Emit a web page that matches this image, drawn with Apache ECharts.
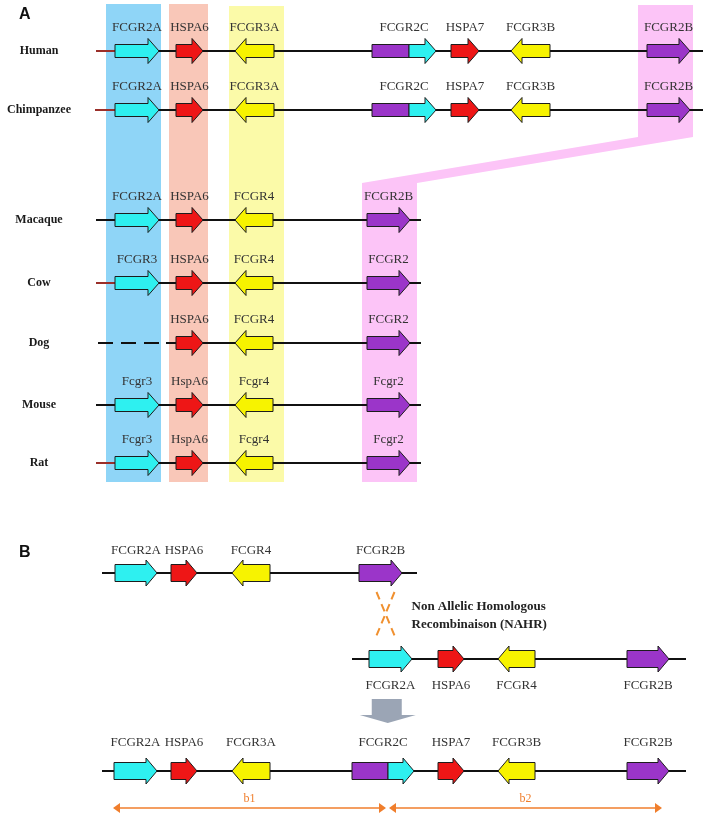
<!DOCTYPE html>
<html>
<head>
<meta charset="utf-8">
<title>FCGR locus</title>
<script src="https://cdn.jsdelivr.net/npm/echarts@6/dist/echarts.min.js"></script>
<style>
  html, body { margin: 0; padding: 0; background: #fff; }
  #chart { width: 710px; height: 821px; }
</style>
</head>
<body>
<div id="chart"></div>
<script>
// ---- data -------------------------------------------------------------
// panel A: species, where the track sits, and how far the locus runs
const species = ['Human', 'Chimpanzee', 'Macaque', 'Cow', 'Dog', 'Mouse', 'Rat'];
const speciesTrack = [51, 110, 220, 283, 343, 405, 463];
const speciesSpan = [[96, 703], [95, 703], [96, 421], [96, 421], [98, 421], [96, 421], [96, 421]];
const speciesLead = [1, 1, 0, 1, 0, 0, 1]; // reddish lead-in before first gene
const dogGapEnd = 166; // missing sequence in dog, drawn dashed

// genes: [label, start, end, strand, family, fusion split]
const humanGenes = [
  ['FCGR2A', 115, 159, 1, 'a'],
  ['HSPA6', 176, 203, 1, 'h'],
  ['FCGR3A', 235, 274, -1, 'r'],
  ['FCGR2C', 372, 436, 1, 'c', 409],
  ['HSPA7', 451, 479, 1, 'h'],
  ['FCGR3B', 511, 550, -1, 'r'],
  ['FCGR2B', 647, 690, 1, 'b']
];
const chimpGenes = [
  ['FCGR2A', 115, 159, 1, 'a'],
  ['HSPA6', 176, 203, 1, 'h'],
  ['FCGR3A', 235, 274, -1, 'r'],
  ['FCGR2C', 372, 436, 1, 'c', 409],
  ['HSPA7', 451, 479, 1, 'h'],
  ['FCGR3B', 511, 550, -1, 'r'],
  ['FCGR2B', 647, 690, 1, 'b']
];
const macaqueGenes = [
  ['FCGR2A', 115, 159, 1, 'a'],
  ['HSPA6', 176, 203, 1, 'h'],
  ['FCGR4', 235, 273, -1, 'r'],
  ['FCGR2B', 367, 410, 1, 'b']
];
const cowGenes = [
  ['FCGR3', 115, 159, 1, 'a'],
  ['HSPA6', 176, 203, 1, 'h'],
  ['FCGR4', 235, 273, -1, 'r'],
  ['FCGR2', 367, 410, 1, 'b']
];
const dogGenes = [
  ['HSPA6', 176, 203, 1, 'h'],
  ['FCGR4', 235, 273, -1, 'r'],
  ['FCGR2', 367, 410, 1, 'b']
];
const mouseGenes = [
  ['Fcgr3', 115, 159, 1, 'a'],
  ['HspA6', 176, 203, 1, 'h'],
  ['Fcgr4', 235, 273, -1, 'r'],
  ['Fcgr2', 367, 410, 1, 'b']
];
const ratGenes = [
  ['Fcgr3', 115, 159, 1, 'a'],
  ['HspA6', 176, 203, 1, 'h'],
  ['Fcgr4', 235, 273, -1, 'r'],
  ['Fcgr2', 367, 410, 1, 'b']
];
const speciesGenes = [humanGenes, chimpGenes, macaqueGenes, cowGenes, dogGenes, mouseGenes, ratGenes];

// conserved columns behind panel A
const blockFamily = ['a', 'h', 'r', 'b'];
const blockSpan = [[106, 161], [169, 208], [229, 284], [362, 417]];
const blockTop = [4, 4, 6, 183];
const blockBottom = 482;
const primate2bSpan = [638, 693]; // FCGR2B column in human / chimp
const primate2bRange = [5, 137];

// panel B: ancestral locus, duplicated copy, locus after NAHR
const bTrack = [573, 659, 771];
const bSpan = [[102, 417], [352, 686], [102, 686]];
const ancestralGenes = [
  ['FCGR2A', 115, 157, 1, 'a'],
  ['HSPA6', 171, 197, 1, 'h'],
  ['FCGR4', 232, 270, -1, 'r'],
  ['FCGR2B', 359, 402, 1, 'b']
];
const duplicatedGenes = [
  ['FCGR2A', 369, 412, 1, 'a'],
  ['HSPA6', 438, 464, 1, 'h'],
  ['FCGR4', 498, 535, -1, 'r'],
  ['FCGR2B', 627, 669, 1, 'b']
];
const derivedGenes = [
  ['FCGR2A', 114, 157, 1, 'a'],
  ['HSPA6', 171, 197, 1, 'h'],
  ['FCGR3A', 232, 270, -1, 'r'],
  ['FCGR2C', 352, 414, 1, 'c', 388],
  ['HSPA7', 438, 464, 1, 'h'],
  ['FCGR3B', 498, 535, -1, 'r'],
  ['FCGR2B', 627, 669, 1, 'b']
];
const bGenes = [ancestralGenes, duplicatedGenes, derivedGenes];
const nahrText = ['Non Allelic Homologous', 'Recombinaison (NAHR)'];
const segmentNames = ['b1', 'b2'];
const segmentRange = [[113, 386], [389, 662]];
const segmentLevel = 808;

// ---- styling ----------------------------------------------------------
const geneColor = { a: '#2ef0f0', h: '#ee1616', r: '#f7f300', b: '#9b35c9' };
const blockColor = { a: '#8fd5f7', h: '#f9c7b8', r: '#fbfaa8', b: '#fcc4f7' };
const orange = '#f07e2c';
const serif = '"Liberation Serif", "DejaVu Serif", serif';

// flatten genes into one list for the custom series
const geneItems = [];
speciesGenes.forEach((list, i) => list.forEach(g =>
  geneItems.push({ g, track: speciesTrack[i], bh: 6.5, hh: 12.5, lab: -23 })));
const bLabelOffset = [-22, 27, -28];
bGenes.forEach((list, i) => list.forEach(g =>
  geneItems.push({ g, track: bTrack[i], bh: 8.5, hh: 13, lab: bLabelOffset[i] })));

// chromosome lines
const lineItems = [];
species.forEach((s, i) => lineItems.push({
  track: speciesTrack[i], span: speciesSpan[i],
  lead: speciesLead[i] ? speciesGenes[i][0][1] : null,
  dashTo: s === 'Dog' ? dogGapEnd : null
}));
bTrack.forEach((t, i) => lineItems.push({ track: t, span: bSpan[i], lead: null, dashTo: null }));

function arrowPoints(x0, x1, yc, bh, hh, head, strand) {
  if (strand > 0) {
    const hx = x1 - head;
    return [[x0, yc - bh], [hx, yc - bh], [hx, yc - hh], [x1, yc], [hx, yc + hh], [hx, yc + bh], [x0, yc + bh]];
  }
  const hx = x0 + head;
  return [[x1, yc - bh], [hx, yc - bh], [hx, yc - hh], [x0, yc], [hx, yc + hh], [hx, yc + bh], [x1, yc + bh]];
}

function textEl(text, x, y, font, fill, align) {
  return {
    type: 'text', x, y,
    style: { text, font, fill, align: align || 'center', verticalAlign: 'middle',
             textAlign: align || 'center', textVerticalAlign: 'middle' }
  };
}

function renderBlocks(params, api) {
  const children = blockFamily.map((f, i) => {
    const a = api.coord([blockSpan[i][0], blockTop[i]]);
    const b = api.coord([blockSpan[i][1], blockBottom]);
    return { type: 'rect', shape: { x: a[0], y: a[1], width: b[0] - a[0], height: b[1] - a[1] },
             style: { fill: blockColor[f] } };
  });
  const t0 = api.coord([primate2bSpan[0], primate2bRange[0]]);
  const t1 = api.coord([primate2bSpan[1], primate2bRange[1]]);
  children.push({ type: 'rect', shape: { x: t0[0], y: t0[1], width: t1[0] - t0[0], height: t1[1] - t0[1] },
                  style: { fill: blockColor.b } });
  // thin strip joining the primate FCGR2B column to the lower one
  const low = blockSpan[3];
  const pts = [
    api.coord([primate2bSpan[0], primate2bRange[1]]),
    api.coord([primate2bSpan[1], primate2bRange[1]]),
    api.coord([low[1], blockTop[3]]),
    api.coord([low[0], blockTop[3]])
  ];
  children.push({ type: 'polygon', shape: { points: pts }, style: { fill: blockColor.b } });
  return { type: 'group', children };
}

function renderLine(params, api) {
  const it = lineItems[params.dataIndex];
  const a = api.coord([it.span[0], it.track]);
  const b = api.coord([it.span[1], it.track]);
  const children = [];
  let from = a[0];
  if (it.dashTo != null) {
    const d = api.coord([it.dashTo, it.track]);
    children.push({ type: 'line', shape: { x1: a[0], y1: a[1], x2: d[0], y2: d[1] },
                    style: { stroke: '#111', lineWidth: 2, lineDash: [15, 8] } });
    from = d[0];
  }
  children.push({ type: 'line', shape: { x1: from, y1: a[1], x2: b[0], y2: b[1] },
                  style: { stroke: '#111', lineWidth: 2 } });
  if (it.lead != null) {
    const l = api.coord([it.lead, it.track]);
    children.push({ type: 'line', shape: { x1: a[0], y1: a[1], x2: l[0], y2: l[1] },
                    style: { stroke: '#9a2f2a', lineWidth: 2 } });
  }
  return { type: 'group', children };
}

function renderGene(params, api) {
  const it = geneItems[params.dataIndex];
  const [name, start, end, strand, family, split] = it.g;
  const p0 = api.coord([start, it.track]);
  const p1 = api.coord([end, it.track]);
  const yc = p0[1];
  const head = 11;
  const edge = { stroke: '#1d1d1d', lineWidth: 1 };
  const children = [];
  if (family === 'c') {
    const ps = api.coord([split, it.track]);
    children.push({ type: 'rect', shape: { x: p0[0], y: yc - it.bh, width: ps[0] - p0[0], height: 2 * it.bh },
                    style: Object.assign({ fill: geneColor.b }, edge) });
    children.push({ type: 'polygon', shape: { points: arrowPoints(ps[0], p1[0], yc, it.bh, it.hh, head, 1) },
                    style: Object.assign({ fill: geneColor.a }, edge) });
  } else {
    children.push({ type: 'polygon', shape: { points: arrowPoints(p0[0], p1[0], yc, it.bh, it.hh, head, strand) },
                    style: Object.assign({ fill: geneColor[family] }, edge) });
  }
  children.push(textEl(name, (p0[0] + p1[0]) / 2, yc + it.lab, '13px ' + serif, '#333'));
  return { type: 'group', children };
}

function renderSpecies(params, api) {
  const i = params.dataIndex;
  const p = api.coord([39, speciesTrack[i]]);
  return textEl(species[i], p[0], p[1], 'bold 12px ' + serif, '#1a1a1a');
}

function renderNahr(params, api) {
  const g2b = ancestralGenes[3], g2a = duplicatedGenes[0], g2c = derivedGenes[3];
  const cx = ((g2b[1] + g2b[2]) / 2 + (g2a[1] + g2a[2]) / 2) / 2;
  const cy = (bTrack[0] + bTrack[1]) / 2 - 1;
  const c = api.coord([cx, cy]);
  const dash = { stroke: '#f0902f', lineWidth: 2, lineDash: [8, 5] };
  const children = [
    { type: 'line', shape: { x1: c[0] - 9, y1: c[1] - 23, x2: c[0] + 10, y2: c[1] + 23 }, style: dash },
    { type: 'line', shape: { x1: c[0] + 9, y1: c[1] - 23, x2: c[0] - 10, y2: c[1] + 23 }, style: dash },
    textEl(nahrText[0], c[0] + 26, c[1] - 8, 'bold 13px ' + serif, '#222', 'left'),
    textEl(nahrText[1], c[0] + 26, c[1] + 10, 'bold 13px ' + serif, '#222', 'left')
  ];
  // grey arrow from the duplicated copy down to the result
  const gx = ((g2a[1] + g2a[2]) / 2 + (g2c[1] + g2c[2]) / 2) / 2 + 1;
  const top = api.coord([gx, bTrack[1] + 40]);
  const bot = api.coord([gx, bTrack[2] - 48]);
  const mid = bot[1] - 8;
  children.push({ type: 'polygon', shape: { points: [
    [top[0] - 16, top[1]], [top[0] + 14, top[1]], [top[0] + 14, mid], [top[0] + 28, mid],
    [top[0], bot[1]], [top[0] - 28, mid], [top[0] - 16, mid]] }, style: { fill: '#9ba5b5' } });
  return { type: 'group', children };
}

function renderSegment(params, api) {
  const i = params.dataIndex;
  const a = api.coord([segmentRange[i][0], segmentLevel]);
  const b = api.coord([segmentRange[i][1], segmentLevel]);
  const y = a[1];
  return { type: 'group', children: [
    { type: 'line', shape: { x1: a[0] + 4, y1: y, x2: b[0] - 4, y2: y }, style: { stroke: orange, lineWidth: 1.5 } },
    { type: 'polygon', shape: { points: [[a[0], y], [a[0] + 7, y - 5], [a[0] + 7, y + 5]] }, style: { fill: orange } },
    { type: 'polygon', shape: { points: [[b[0], y], [b[0] - 7, y - 5], [b[0] - 7, y + 5]] }, style: { fill: orange } },
    textEl(segmentNames[i], (a[0] + b[0]) / 2, y - 9, '12px ' + serif, orange)
  ] };
}

const chart = echarts.init(document.getElementById('chart'));
chart.setOption({
  backgroundColor: '#fff',
  animation: false,
  title: [
    { text: 'A', left: 19, top: 7, padding: 0,
      textStyle: { fontFamily: 'Liberation Sans', fontWeight: 'bold', fontSize: 16, color: '#111' } },
    { text: 'B', left: 19, top: 545, padding: 0,
      textStyle: { fontFamily: 'Liberation Sans', fontWeight: 'bold', fontSize: 16, color: '#111' } }
  ],
  grid: { left: 0, right: 0, top: 0, bottom: 0 },
  xAxis: { type: 'value', min: 0, max: 710, show: false },
  yAxis: { type: 'value', min: 0, max: 821, inverse: true, show: false },
  series: [
    { type: 'custom', name: 'blocks', renderItem: renderBlocks, data: [[0, 0]], silent: true },
    { type: 'custom', name: 'chromosomes', renderItem: renderLine,
      data: lineItems.map(l => [l.span[0], l.track]), silent: true },
    { type: 'custom', name: 'genes', renderItem: renderGene,
      data: geneItems.map(g => [g.g[1], g.track]), silent: true },
    { type: 'custom', name: 'species', renderItem: renderSpecies,
      data: species.map((s, i) => [39, speciesTrack[i]]), silent: true },
    { type: 'custom', name: 'nahr', renderItem: renderNahr, data: [[0, 0]], silent: true },
    { type: 'custom', name: 'segments', renderItem: renderSegment,
      data: segmentNames.map((s, i) => [segmentRange[i][0], segmentLevel]), silent: true }
  ]
});
</script>
</body>
</html>
